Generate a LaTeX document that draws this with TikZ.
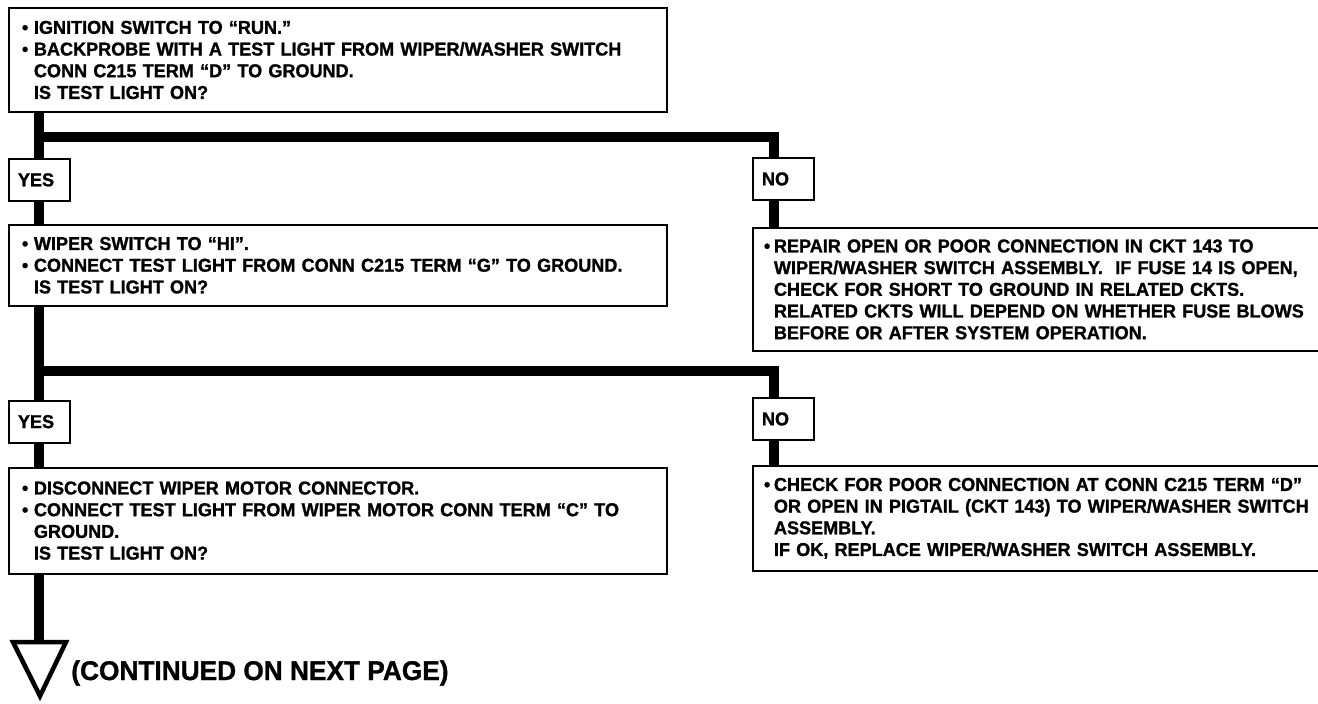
\documentclass[tikz,border=0pt]{standalone}
\usepackage{fontspec}
\setmainfont{Liberation Sans}[BoldFeatures={FakeBold=1.2, FakeStretch=0.97}]
\usepackage{tikz}
\usetikzlibrary{positioning, calc}
\newcommand{\flowfont}{\fontsize{10.6}{12.35}\selectfont\bfseries}
\newcommand{\contfont}{\fontsize{15.4}{16}\selectfont\bfseries}
\newcommand{\bul}[1][0.24cm]{\makebox[#1][l]{•}}
\newcommand{\ind}[1][0.24cm]{\hspace*{#1}}
\tikzset{
  qbox/.style   ={draw, line width=1.1pt, align=left, anchor=north west,
                  text width=12.64cm, inner xsep=0.26cm, inner ysep=0pt,
                  font=\flowfont},
  fixbox/.style ={draw, line width=1.1pt, align=left, anchor=north west,
                  text width=12.2cm, inner xsep=0.22cm, inner ysep=0pt,
                  font=\flowfont},
  yesno/.style  ={draw, line width=1.1pt, align=left, anchor=north west,
                  text width=0.86cm, inner xsep=0.18cm, inner ysep=0pt,
                  minimum height=0.84cm, font=\flowfont},
  trunk/.style  ={line width=0.2cm, line join=miter},
}

\begin{document}
\begin{tikzpicture}[x=0.02cm, y=-0.02cm]
  \useasboundingbox (0,0) rectangle (1318,703);
  \clip (0,0) rectangle (1318,703);

  % first check
  \node[qbox, minimum height=2.08cm] (q1) at (8,7)
    {\bul IGNITION SWITCH TO “RUN.”\\
     \bul BACKPROBE WITH A TEST LIGHT FROM WIPER/WASHER SWITCH\\
     \ind CONN C215 TERM “D” TO GROUND.\\
     \ind IS TEST LIGHT ON?};
  \node[yesno, below=0.9cm of q1.south west, anchor=north west] (yes1) {YES};
  \node[yesno] (no1) at (752,157) {NO};
  \coordinate (bar1) at (774,137);

  % second check
  \node[qbox, minimum height=1.62cm, below=0.44cm of yes1.south west,
        anchor=north west] (q2)
    {\bul WIPER SWITCH TO “HI”.\\
     \bul CONNECT TEST LIGHT FROM CONN C215 TERM “G” TO GROUND.\\
     \ind IS TEST LIGHT ON?};
  \node[fixbox, minimum height=2.46cm, below=0.52cm of no1.south west,
        anchor=north west] (fix1)
    {\bul[0.2cm]REPAIR OPEN OR POOR CONNECTION IN CKT 143 TO\\
     \ind[0.2cm]WIPER/WASHER SWITCH ASSEMBLY.\ \ IF FUSE 14 IS OPEN,\\
     \ind[0.2cm]CHECK FOR SHORT TO GROUND IN RELATED CKTS.\\
     \ind[0.2cm]RELATED CKTS WILL DEPEND ON WHETHER FUSE BLOWS\\
     \ind[0.2cm]BEFORE OR AFTER SYSTEM OPERATION.};
  \node[yesno, below=1.86cm of q2.south west, anchor=north west] (yes2) {YES};
  \node[yesno] (no2) at (752,397) {NO};
  \coordinate (bar2) at (774,371);

  % third check
  \node[qbox, minimum height=2.12cm, below=0.46cm of yes2.south west,
        anchor=north west] (q3)
    {\bul DISCONNECT WIPER MOTOR CONNECTOR.\\
     \bul CONNECT TEST LIGHT FROM WIPER MOTOR CONN TERM “C” TO\\
     \ind GROUND.\\
     \ind IS TEST LIGHT ON?};
  \node[fixbox, minimum height=2.1cm, below=0.48cm of no2.south west,
        anchor=north west] (fix2)
    {\bul[0.2cm]CHECK FOR POOR CONNECTION AT CONN C215 TERM “D”\\
     \ind[0.2cm]OR OPEN IN PIGTAIL (CKT 143) TO WIPER/WASHER SWITCH\\
     \ind[0.2cm]ASSEMBLY.\\
     \ind[0.2cm]IF OK, REPLACE WIPER/WASHER SWITCH ASSEMBLY.};

  % continuation
  \coordinate (arr) at (39,642);
  \node[font=\contfont, inner sep=0pt, anchor=base west] (cont) at (71,680)
    {(CONTINUED ON NEXT PAGE)};

  % connectors
  \draw[trunk] (q1.south -| yes1) -- (yes1.north);
  \draw[trunk] (yes1 |- bar1) -- (bar1) -- (bar1 |- no1.north);
  \draw[trunk] (yes1.south) -- (q2.north -| yes1);
  \draw[trunk] (no1.south -| bar1) -- (fix1.north -| bar1);
  \draw[trunk] (q2.south -| yes2) -- (yes2.north);
  \draw[trunk] (yes2 |- bar2) -- (bar2) -- (bar2 |- no2.north);
  \draw[trunk] (yes2.south) -- (q3.north -| yes2);
  \draw[trunk] (no2.south -| bar2) -- (fix2.north -| bar2);
  \draw[trunk] (q3.south -| yes2) -- (yes2 |- arr);
  \draw[line width=0.09cm, line join=miter]
    ($(arr)+(-26,0)$) -- ($(arr)+(27,0)$) -- ($(arr)+(1,54)$) -- cycle;
\end{tikzpicture}
\end{document}
